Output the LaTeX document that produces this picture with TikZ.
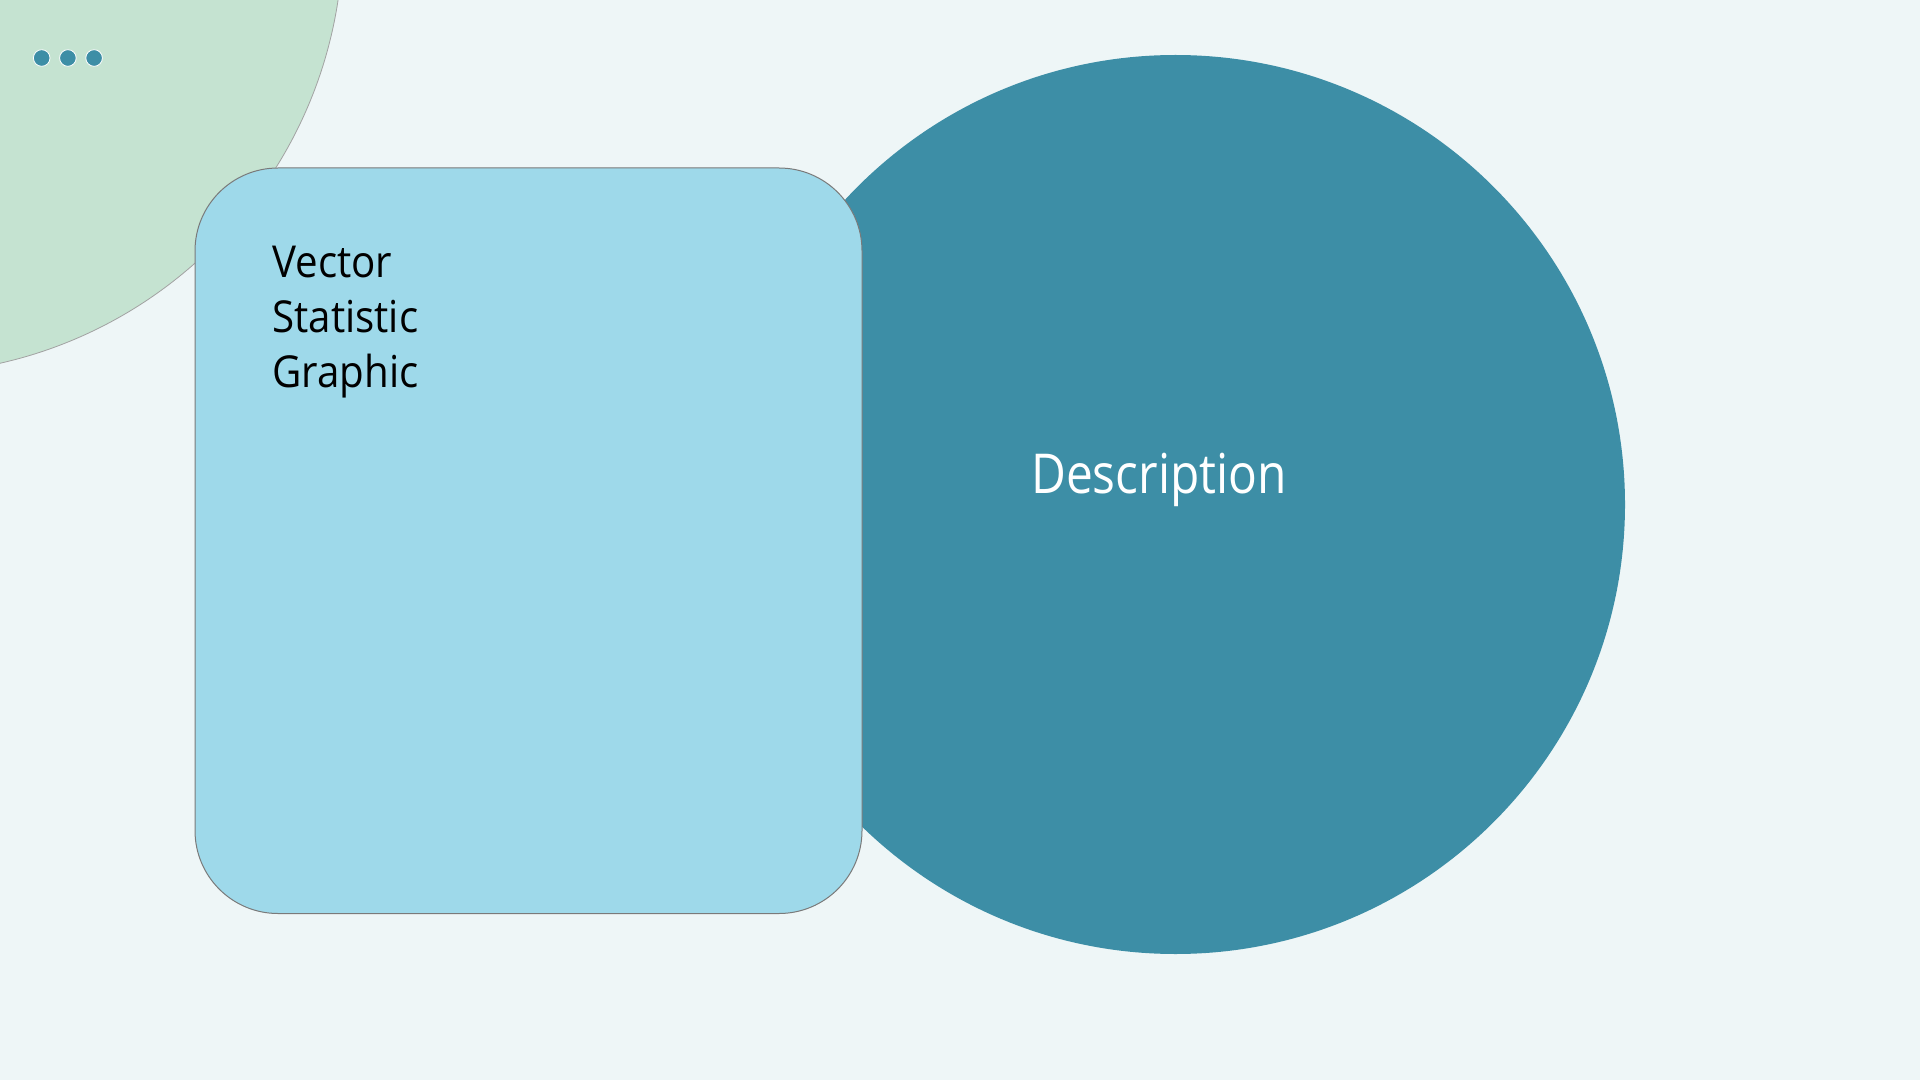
\documentclass[tikz,border=0pt]{standalone}
\usepackage{fontspec}
\setmainfont{Open Sans}
\newfontfamily\listfont[FakeStretch=0.915]{Open Sans}
\newfontfamily\descfont[FakeStretch=0.87]{Open Sans}
\usetikzlibrary{positioning}
\definecolor{bgcol}{HTML}{EEF6F7}
\definecolor{mintcol}{HTML}{C5E3D1}
\definecolor{tealcol}{HTML}{3D8EA6}
\definecolor{skycol}{HTML}{9ED9EA}
\definecolor{edgecol}{HTML}{7A7A7A}

\begin{document}
\begin{tikzpicture}[
	x=0.5pt, y=-0.5pt,
	blob/.style = {
		circle, draw=edgecol!70, line width=0.4pt, fill=mintcol,
		minimum size=440pt, inner sep=0pt, outer sep=0pt},
	disc/.style = {
		circle, fill=tealcol, minimum size=449.5pt,
		inner sep=0pt, outer sep=0pt},
	dot/.style = {
		circle, fill=tealcol, draw=white, line width=0.4pt,
		minimum size=8.3pt, inner sep=0pt},
	panel/.style = {
		draw=edgecol, line width=0.5pt, fill=skycol, rectangle,
		rounded corners=41.5pt, minimum width=333.5pt,
		minimum height=372.75pt, inner sep=0pt, outer sep=0pt},
	listtext/.style = {
		align=left, inner sep=0pt,
		font=\listfont\fontsize{22}{27.5}\selectfont},
	desctext/.style = {
		inner sep=0pt, text=white,
		font=\descfont\fontsize{27.5}{32}\selectfont}
]
\useasboundingbox[fill=bgcol] (0,0) rectangle (1920,1080);

\node (mint) [blob] at (-97,-66) {};
\foreach \i in {1,2,3}
	\node (dot\i) [dot] at (15.5+26.2*\i,58) {};

\node (circ) [disc] at (1175.5,504.5) {};
\node (card) [panel] at (528.5,540.75) {};

\node (items) [listtext, below right=39pt and 38.5pt of card.north west, anchor=north west]
	{Vector\\Statistic\\Graphic};
\node (desc) [desctext] at (1159,480) {Description};
\end{tikzpicture}
\end{document}
